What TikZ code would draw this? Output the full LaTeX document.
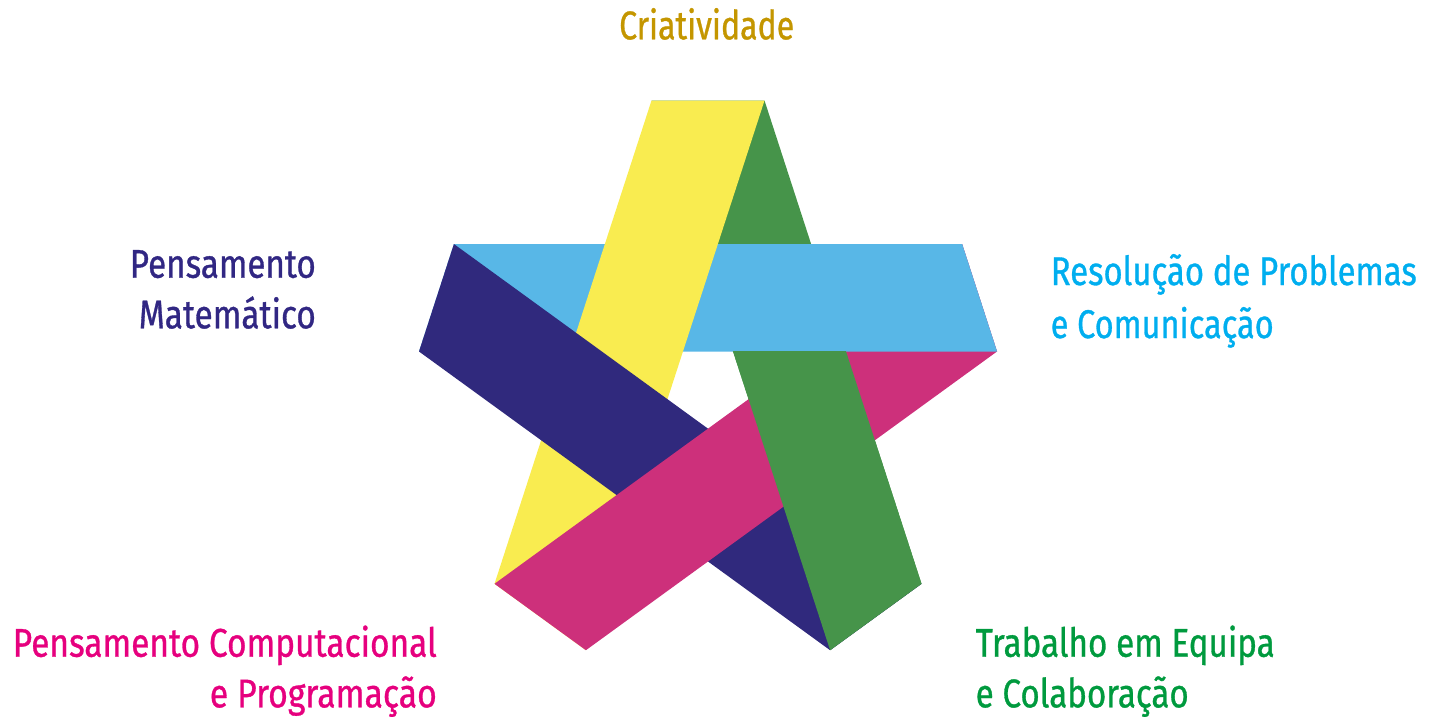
\documentclass[tikz,border=0pt]{standalone}
\usepackage{fontspec}
\setmainfont{Fira Sans}
\newfontfamily\labfont{Fira Sans}[FakeBold=0.9]
\usepackage{graphicx}
\definecolor{cYel}{HTML}{F9EC50}
\definecolor{cGrn}{HTML}{46944A}
\definecolor{cBlu}{HTML}{58B7E7}
\definecolor{cNav}{HTML}{30297D}
\definecolor{cMag}{HTML}{CD307B}
\definecolor{tGold}{HTML}{C49600}
\definecolor{tNav}{HTML}{312783}
\definecolor{tCya}{HTML}{00AEEF}
\definecolor{tMag}{HTML}{E6007E}
\definecolor{tGrn}{HTML}{009A3E}
\newcommand\fitw[2]{\resizebox{#1pt}{\height}{#2}}
\tikzset{
  band/.style={draw=none},
  lab/.style={inner sep=0pt, font=\labfont\fontsize{40}{48}\selectfont}
}
\begin{document}
\begin{tikzpicture}[x=1pt,y=-1pt]
\useasboundingbox (0,0) rectangle (1429,716);
% end corners of the five bands
\coordinate (P0) at (651.5,100.5);
\coordinate (Q0) at (764.5,100.5);
\coordinate (P1) at (419.0,351.5);
\coordinate (Q1) at (453.9,244.0);
\coordinate (P2) at (585.9,650.2);
\coordinate (Q2) at (494.5,583.8);
\coordinate (P3) at (921.5,583.8);
\coordinate (Q3) at (830.1,650.2);
\coordinate (P4) at (962.1,244.0);
\coordinate (Q4) at (997.0,351.5);
% woven bands
\fill[band, cGrn] (P3) -- (Q3) -- (P0) -- (Q0) -- cycle;
\fill[band, cBlu] (P4) -- (Q4) -- (P1) -- (Q1) -- cycle;
\fill[band, cYel] (P0) -- (Q0) -- (P2) -- (Q2) -- cycle;
\fill[band, cNav] (P1) -- (Q1) -- (P3) -- (Q3) -- cycle;
\fill[band, cMag] (P2) -- (Q2) -- (P4) -- (Q4) -- cycle;
\begin{scope}
  \clip (800,0) rectangle (1429,716);
  \fill[band, cBlu] (P4) -- (Q4) -- (P1) -- (Q1) -- cycle;
\end{scope}
\begin{scope}
  \clip (0,351.5) rectangle (1429,716);
  \fill[band, cGrn] (P3) -- (Q3) -- (P0) -- (Q0) -- cycle;
\end{scope}
% labels
\node[lab, anchor=base west, text=tGold] (crea) at (619,39.3) {\fitw{175}{Criatividade}};
\node[lab, anchor=base east, text=tNav] (pm1) at (316,277.7) {\fitw{186}{Pensamento}};
\node[lab, anchor=base east, text=tNav] (pm2) at (316,328.3) {\fitw{177}{Matemático}};
\node[lab, anchor=base west, text=tCya] (rp1) at (1050.5,285) {\fitw{366}{Resolução de Problemas}};
\node[lab, anchor=base west, text=tCya] (rp2) at (1050.5,338) {\fitw{223}{e Comunicação}};
\node[lab, anchor=base east, text=tMag] (pc1) at (437,656.7) {\fitw{424}{Pensamento Computacional}};
\node[lab, anchor=base east, text=tMag] (pc2) at (437,707.3) {\fitw{227}{e Programação}};
\node[lab, anchor=base west, text=tGrn] (te1) at (975.5,656.7) {\fitw{299}{Trabalho em Equipa}};
\node[lab, anchor=base west, text=tGrn] (te2) at (975.5,707.3) {\fitw{213}{e Colaboração}};
\end{tikzpicture}
\end{document}
